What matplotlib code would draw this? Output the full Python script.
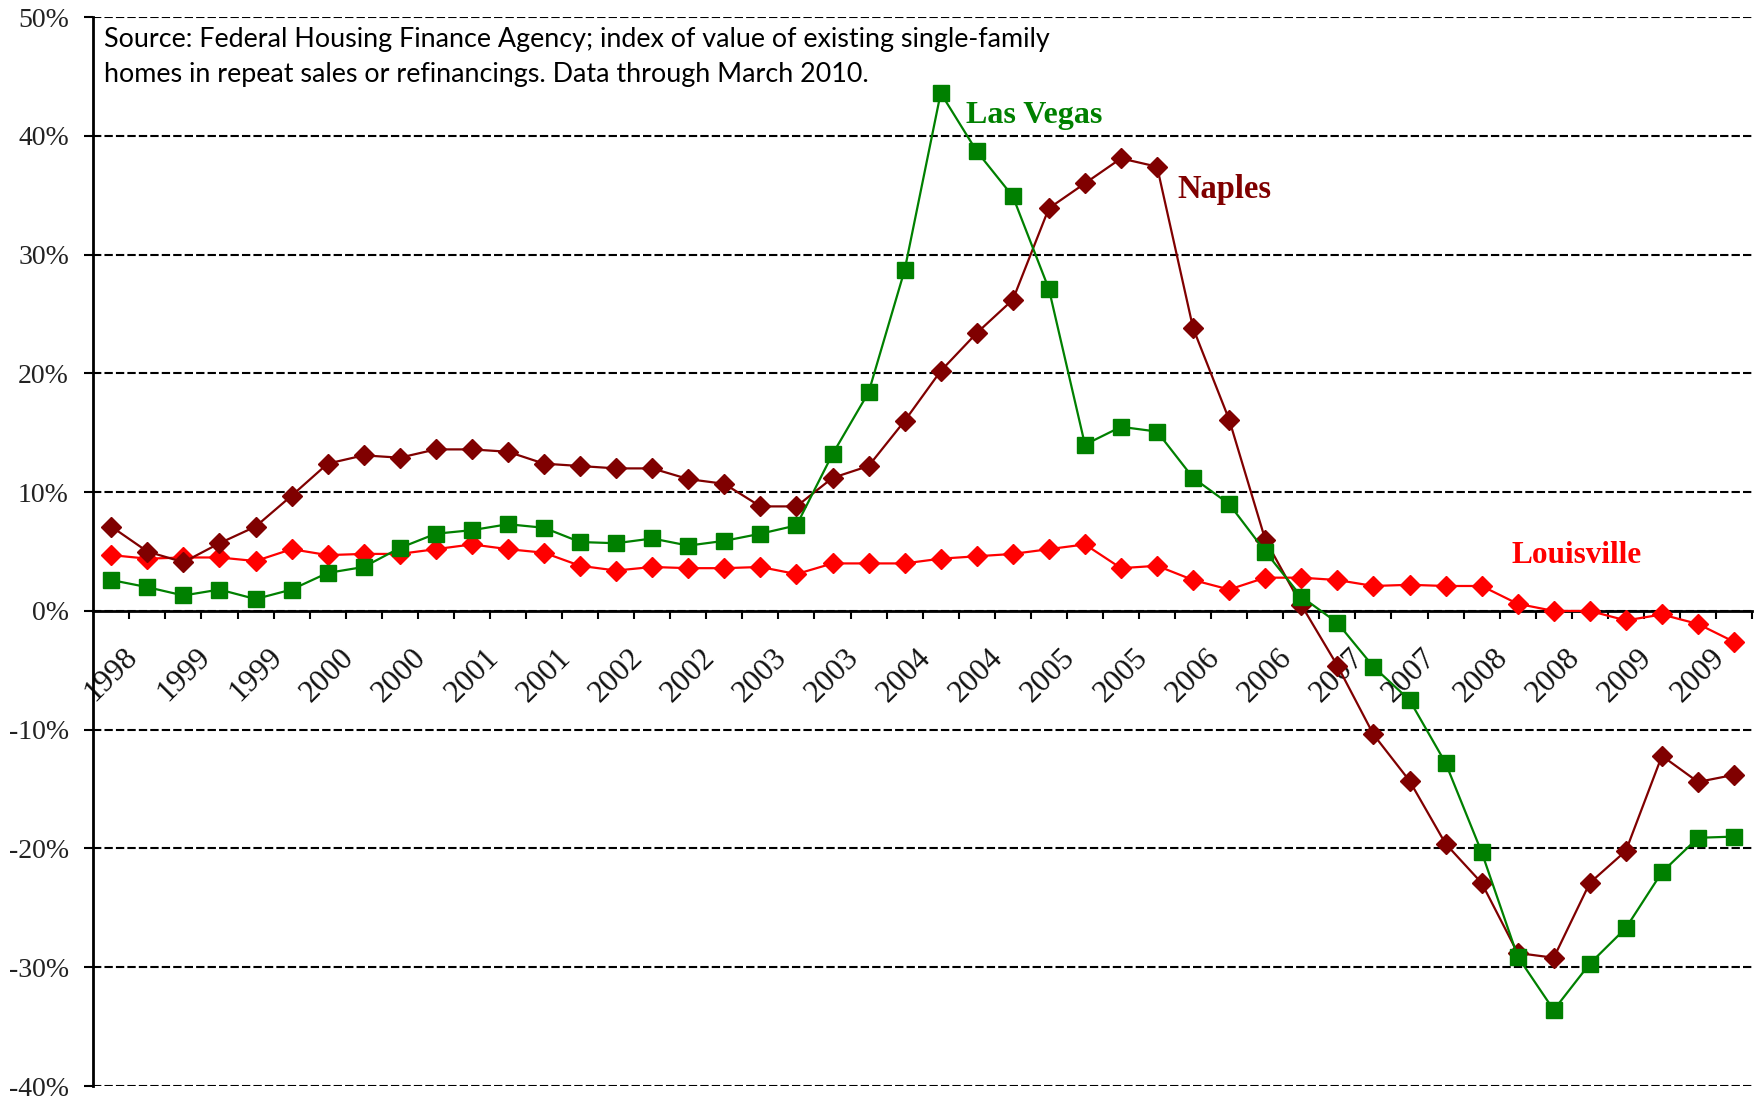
import numpy as np
import matplotlib.pyplot as plt
from matplotlib.transforms import ScaledTranslation

# quarterly year-over-year change, Q4 1998 .. Q1 2010 (percent)
louisville = [4.7, 4.4, 4.5, 4.5, 4.2, 5.2, 4.7, 4.8, 4.8, 5.2,
              5.6, 5.2, 4.9, 3.8, 3.4, 3.7, 3.6, 3.6, 3.7, 3.1,
              4.0, 4.0, 4.0, 4.4, 4.6, 4.8, 5.2, 5.6, 3.6, 3.8,
              2.6, 1.8, 2.8, 2.8, 2.6, 2.1, 2.2, 2.1, 2.1, 0.6,
              0.0, 0.0, -0.8, -0.3, -1.1, -2.6]
las_vegas = [2.6, 2.0, 1.3, 1.8, 1.0, 1.8, 3.2, 3.7, 5.3, 6.5,
             6.8, 7.3, 7.0, 5.8, 5.7, 6.1, 5.5, 5.9, 6.5, 7.2,
             13.2, 18.4, 28.7, 43.6, 38.7, 34.9, 27.1, 14.0, 15.5, 15.1,
             11.2, 9.0, 5.0, 1.2, -1.0, -4.7, -7.5, -12.8, -20.3, -29.1,
             -33.6, -29.7, -26.7, -22.0, -19.1, -19.0]
naples = [7.1, 5.0, 4.1, 5.7, 7.1, 9.7, 12.4, 13.1, 12.9, 13.6,
          13.6, 13.4, 12.4, 12.2, 12.0, 12.0, 11.1, 10.7, 8.8, 8.8,
          11.2, 12.2, 16.0, 20.2, 23.4, 26.2, 33.9, 36.0, 38.1, 37.4,
          23.8, 16.1, 6.0, 0.5, -4.6, -10.4, -14.3, -19.6, -22.9, -28.8,
          -29.2, -22.9, -20.2, -12.2, -14.4, -13.8]

# every other quarter carries a year label
tick_labels = ["1998", "1999", "1999", "2000", "2000", "2001", "2001", "2002",
               "2002", "2003", "2003", "2004", "2004", "2005", "2005", "2006",
               "2006", "2007", "2007", "2008", "2008", "2009", "2009"]
y_ticks = [-40, -30, -20, -10, 0, 10, 20, 30, 40, 50]

source = ("Source: Federal Housing Finance Agency; index of value of existing single-family\n"
          "homes in repeat sales or refinancings. Data through March 2010.")

GREEN = "#008000"
DARKRED = "#800000"
RED = "#ff0000"
serif = ["Liberation Serif", "DejaVu Serif"]

x = np.arange(len(naples))

fig = plt.figure(figsize=(17.6, 11), dpi=100)
ax = fig.add_axes([0.053, 0.0127, 0.9425, 0.9718])

ax.plot(x, louisville, color=RED, lw=1.6, marker="D", ms=10, zorder=3)
ax.plot(x, naples, color=DARKRED, lw=1.6, marker="D", ms=10, zorder=4)
ax.plot(x, las_vegas, color=GREEN, lw=1.6, marker="s", ms=11.5, zorder=5)

ax.set_xlim(-0.5, len(x) - 0.5)
ax.set_ylim(-40, 50)

# axis styling first, labels afterwards so they keep their properties
ax.tick_params(axis="y", length=6.5, width=1.5, pad=11, color="black",
               labelsize=20, labelcolor="#222222", labelfontfamily=serif)
ax.tick_params(axis="x", which="major", length=0, pad=23, labelsize=22.5,
               labelrotation=45, labelcolor="#111111", labelfontfamily=serif)
ax.tick_params(axis="x", which="minor", length=5.5, width=1.5, color="black")

ax.set_yticks(y_ticks)
ax.set_yticklabels([f"{v}%" for v in y_ticks])
ax.yaxis.grid(True, linestyle=(0, (4, 1.5)), color="black", lw=1.5)
ax.set_axisbelow(True)

ax.set_xticks(np.arange(0.5, len(x), 1), minor=True)
ax.set_xticks(x[::2])
ax.set_xticklabels(tick_labels, ha="right", va="top")
shift = ScaledTranslation(-4 / 100, 0, fig.dpi_scale_trans)
for lab in ax.get_xticklabels():
    lab.set_transform(lab.get_transform() + shift)

for side in ["top", "right"]:
    ax.spines[side].set_visible(False)
ax.spines["bottom"].set_position(("data", 0))
ax.spines["bottom"].set_linewidth(2)
ax.spines["left"].set_linewidth(2)

ax.text(-0.2, 46.6, source, family=["Lato", "DejaVu Sans"], fontsize=19.4,
        va="center", ha="left", linespacing=1.5)
ax.text(23.7, 41.7, "Las Vegas", color=GREEN, family=serif, fontsize=23,
        fontweight="bold", va="center")
ax.text(29.55, 35.45, "Naples", color=DARKRED, family=serif, fontsize=23.5,
        fontweight="bold", va="center")
ax.text(38.83, 4.7, "Louisville", color=RED, family=serif, fontsize=22.5,
        fontweight="bold", va="center")

fig.savefig("out.png", dpi=100)
